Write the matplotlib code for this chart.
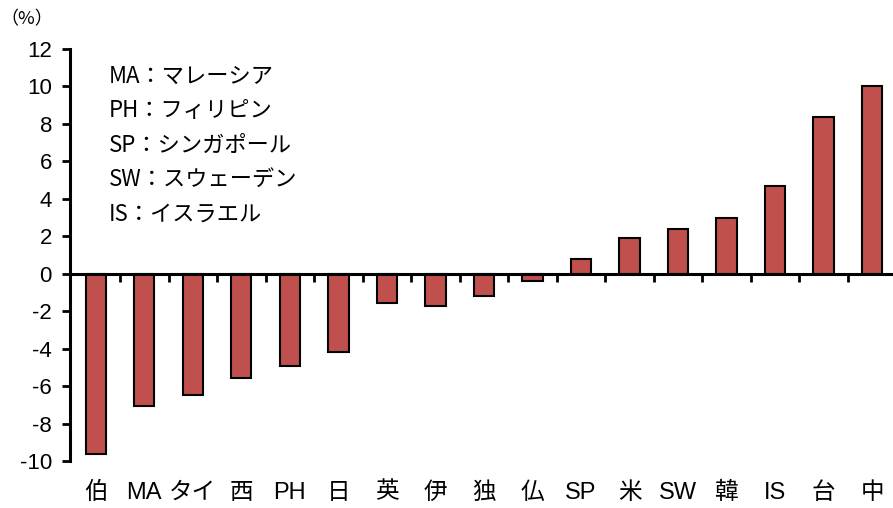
import numpy as np
import matplotlib.pyplot as plt

# 国・地域（昇順）
countries = ['伯', 'MA', 'タイ', '西', 'PH', '日', '英', '伊', '独', '仏',
             'SP', '米', 'SW', '韓', 'IS', '台', '中']
values = [-9.6, -7.05, -6.5, -5.55, -4.9, -4.2, -1.58, -1.7, -1.2, -0.4,
          0.8, 1.9, 2.37, 3.0, 4.7, 8.35, 10.05]
yticks = list(range(-10, 13, 2))
notes = ['MA：マレーシア', 'PH：フィリピン', 'SP：シンガポール',
         'SW：スウェーデン', 'IS：イスラエル']

lat_cjk = ['Liberation Sans', 'Noto Sans CJK JP']
plt.rcParams['font.family'] = lat_cjk

fig = plt.figure(figsize=(8.93, 5.08), dpi=100)
ax = fig.add_axes([0.0784, 0.0925, 0.9216, 0.811])

x = np.arange(len(countries))
ax.bar(x, values, width=0.42, color='#C0504D', edgecolor='black', linewidth=1.5, zorder=2)

ax.set_ylim(-10, 12)
ax.set_xlim(-0.53, 16.43)
ax.set_yticks(yticks)
ax.set_yticklabels([str(t) for t in yticks], fontsize=16)
ax.tick_params(axis='y', direction='out', length=6, width=2, pad=7)

for s in ['top', 'right']:
    ax.spines[s].set_visible(False)
ax.spines['left'].set_linewidth(2.2)
ax.spines['bottom'].set_position(('data', 0))
ax.spines['bottom'].set_linewidth(2.2)
ax.spines['bottom'].set_zorder(3)

# 区切りの目盛り
ax.set_xticks(x[:-1] + 0.5)
ax.set_xticklabels([])
ax.tick_params(axis='x', direction='out', length=6, width=2)

# カテゴリ名は下端に
for i, lab in enumerate(countries):
    ax.text(i, -0.05, lab, transform=ax.get_xaxis_transform(), ha='center', va='top',
            fontsize=17, family=lat_cjk)

# 凡例の注記
for k, t in enumerate(notes):
    fig.text(0.122, 0.85 - k * 0.068, t, fontsize=16, family=['Noto Sans CJK JP'],
             va='center', ha='left')

fig.text(0.0, 0.962, '（%）', fontsize=13, family=['Noto Sans CJK JP'], va='center', ha='left')

fig.savefig('out.png', dpi=100)
